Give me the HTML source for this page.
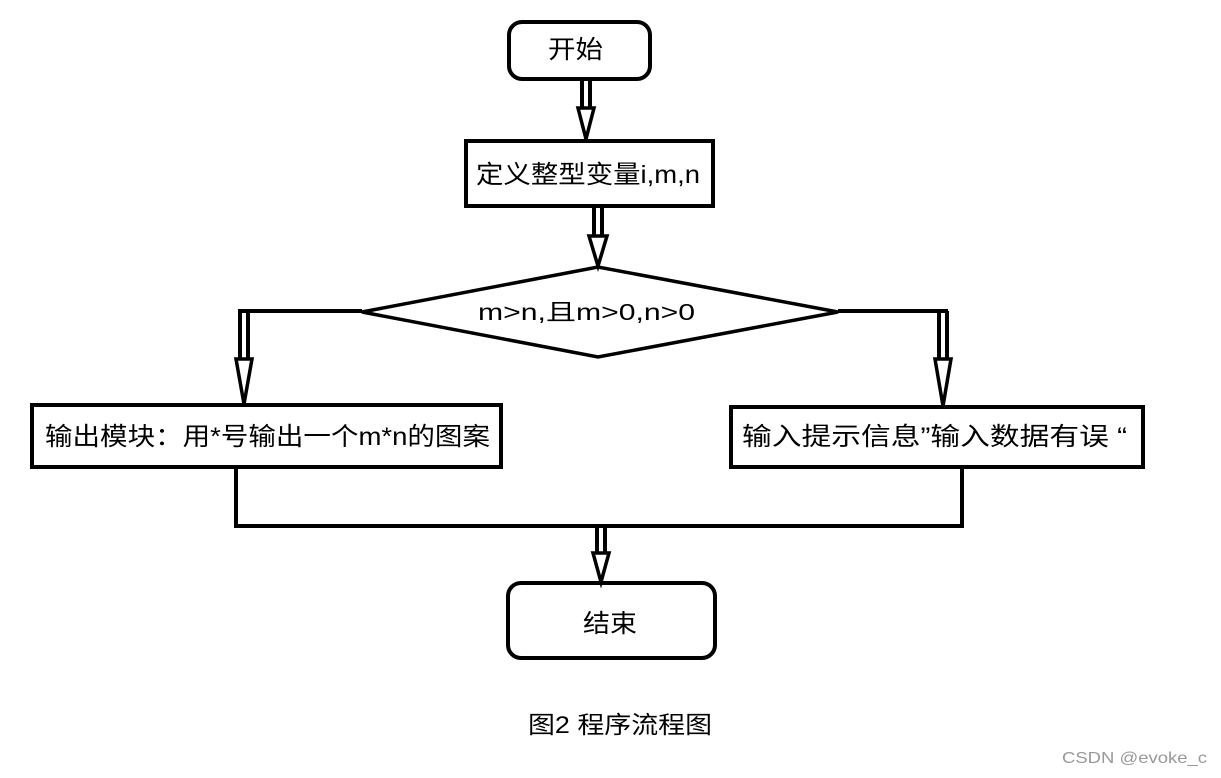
<!DOCTYPE html>
<html><head><meta charset="utf-8"><style>
html,body{margin:0;padding:0;background:#fff;}
svg{display:block}
text{font-family:"Liberation Sans","Noto Sans CJK SC",sans-serif;fill:#000}
</style></head><body>
<svg width="1221" height="778" viewBox="0 0 1221 778" xmlns="http://www.w3.org/2000/svg">
<g fill="none" stroke="#000" stroke-width="4">
<rect x="509" y="22" width="141" height="57" rx="13"/>
<rect x="466" y="141" width="247" height="65"/>
<polygon points="362,312 598,267 838,312 598,357" stroke-width="3.5"/>
<rect x="32" y="405" width="469" height="62"/>
<rect x="731" y="407" width="412" height="60"/>
<rect x="508" y="583" width="207" height="75" rx="13"/>
<polyline points="362,311 238,311"/>
<polyline points="838,311 948,311"/>
<polyline points="236,467 236,526 962,526 962,467"/>
</g>
<g stroke="#000" stroke-width="4" fill="#fff">
<line x1="582" y1="80" x2="582" y2="108"/><line x1="590" y1="80" x2="590" y2="108"/>
<polygon points="578,108 594,108 586,139" stroke-width="3.5"/>
<line x1="594" y1="206" x2="594" y2="236"/><line x1="602" y1="206" x2="602" y2="236"/>
<polygon points="589,236 607,236 598,266" stroke-width="3.5"/>
<line x1="240" y1="311" x2="240" y2="359"/><line x1="248" y1="311" x2="248" y2="359"/>
<polygon points="236,359 252,359 244,404" stroke-width="3.5"/>
<line x1="939" y1="311" x2="939" y2="359"/><line x1="947" y1="311" x2="947" y2="359"/>
<polygon points="935,359 951,359 943,406" stroke-width="3.5"/>
<line x1="597" y1="527" x2="597" y2="553"/><line x1="605" y1="527" x2="605" y2="553"/>
<polygon points="593,553 609,553 601,582" stroke-width="3.5"/>
</g>
<text x="548" y="58" font-size="25" textLength="55" lengthAdjust="spacingAndGlyphs">开始</text>
<text x="476" y="183" font-size="25" textLength="224" lengthAdjust="spacingAndGlyphs">定义整型变量i,m,n</text>
<text x="478" y="320" font-size="23" textLength="217" lengthAdjust="spacingAndGlyphs">m&gt;n,且m&gt;0,n&gt;0</text>
<text x="45" y="445" font-size="25" textLength="445" lengthAdjust="spacingAndGlyphs">输出模块：用*号输出一个m*n的图案</text>
<text x="742" y="445" font-size="25" textLength="385" lengthAdjust="spacingAndGlyphs">输入提示信息”输入数据有误 “</text>
<text x="583" y="632" font-size="25" textLength="54" lengthAdjust="spacingAndGlyphs">结束</text>
<text x="528" y="733" font-size="24" textLength="184" lengthAdjust="spacingAndGlyphs">图2 程序流程图</text>
<text x="1062" y="763" font-size="16" textLength="145" lengthAdjust="spacingAndGlyphs" style="fill:#999">CSDN @evoke_c</text>
</svg>
</body></html>
